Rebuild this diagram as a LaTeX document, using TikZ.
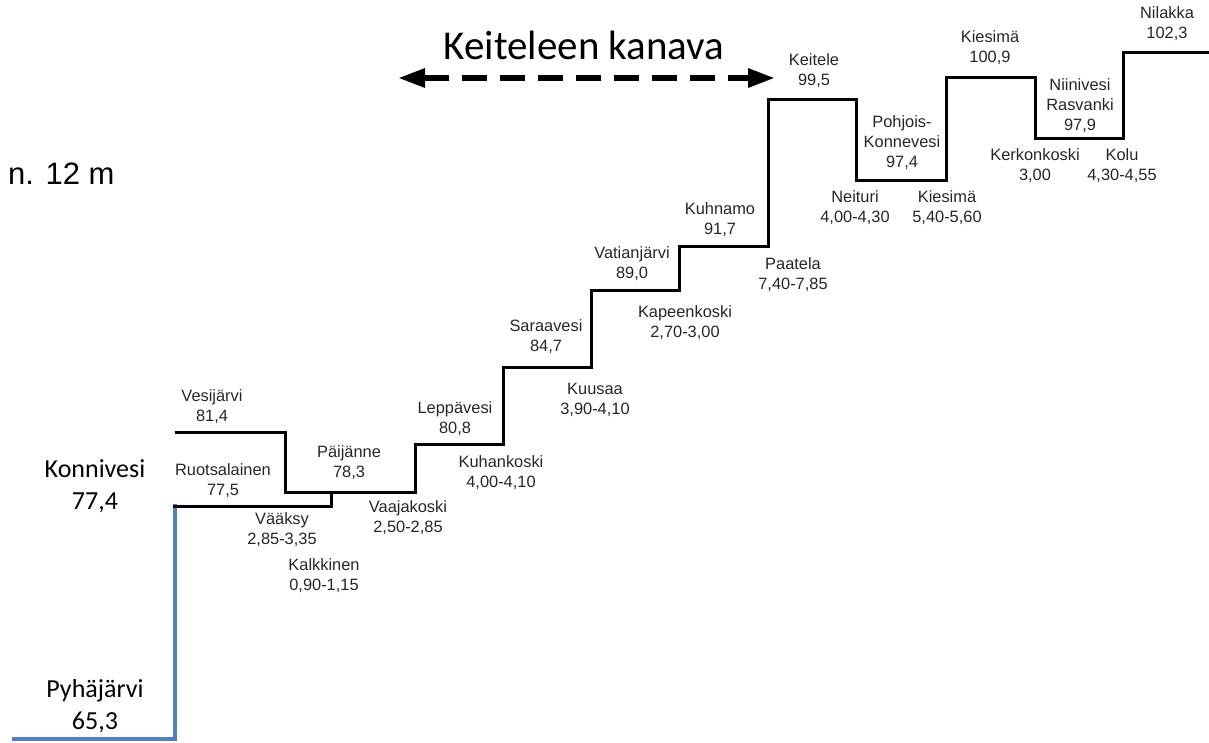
\documentclass[tikz,border=0pt]{standalone}
\usepackage{fontspec}
\setmainfont{Liberation Sans}
\newfontfamily\calfont{Carlito}
\usetikzlibrary{arrows.meta}
\definecolor{profblue}{RGB}{79,129,189}
\begin{document}
\begin{tikzpicture}[x=1pt,y=-1pt, line join=miter, line cap=butt,
		lbl/.style={align=center, font=\fontsize{16.4}{20}\selectfont, text=black!85, inner sep=0pt},
		big/.style={align=center, font=\calfont\fontsize{26}{32}\selectfont, inner sep=0pt}]
	\useasboundingbox (0,0) rectangle (1209,742);
	% lake profile
	\draw[profblue, line width=4.5pt] (12,739)--(175,739)--(175,504);
	\draw[line width=3pt] (173,506)--(331,506)--(331,492);
	\draw[line width=3pt] (175,432)--(285,432)--(285,492)--(415,492)--(415,444)--(503,444)--(503,367)
		--(591,367)--(591,290)--(679,290)--(679,246)--(768,246)--(768,99)--(856,99)--(856,180)
		--(946,180)--(946,77)--(1035,77)--(1035,138)--(1123,138)--(1123,52)--(1209,52);
	% lakes and locks
	\foreach \x/\y/\nm/\t in {212/407/vesij/{Vesijärvi\\81,4}, 223/481/ruots/{Ruotsalainen\\77,5},
		349/463/paij/{Päijänne\\78,3}, 282/530/vaak/{Vääksy\\2,85-3,35}, 324/576/kalk/{Kalkkinen\\0,90-1,15},
		408/518/vaaj/{Vaajakoski\\2,50-2,85}, 455/419/lepp/{Leppävesi\\80,8}, 501/473/kuhk/{Kuhankoski\\4,00-4,10},
		546/337/sara/{Saraavesi\\84,7}, 595/400/kuus/{Kuusaa\\3,90-4,10}, 632/264/vati/{Vatianjärvi\\89,0},
		685/323/kape/{Kapeenkoski\\2,70-3,00}, 720/220/kuhn/{Kuhnamo\\91,7}, 793/275/paat/{Paatela\\7,40-7,85},
		814/71/keit/{Keitele\\99,5}, 902/143/pohj/{Pohjois-\\Konnevesi\\97,4}, 855/208/neit/{Neituri\\4,00-4,30},
		947/208/kiesk/{Kiesimä\\5,40-5,60}, 990/48/kies/{Kiesimä\\100,9}, 1080/106/niin/{Niinivesi\\Rasvanki\\97,9},
		1035/166/kerk/{Kerkonkoski\\3,00}, 1122/166/kolu/{Kolu\\4,30-4,55}, 1167/24/nila/{Nilakka\\102,3}}{
		\node[lbl] (\nm) at (\x,\y) {\t};}
	\node[big] (konn) at (95,486) {Konnivesi\\77,4};
	\node[big] (pyha) at (95,706) {Pyhäjärvi\\65,3};
	\node[anchor=west, inner sep=0pt, font=\fontsize{31}{37}\selectfont] (korkeus) at (8,174) {n. 12 m};
	% canal
	\node[inner sep=0pt, font=\calfont\fontsize{41}{49}\selectfont] (kanava) at (584,45) {Keiteleen kanava};
	\coordinate (kv) at (398,78);
	\coordinate (ko) at (775,78);
	\draw[line width=6pt, dash pattern=on 25pt off 13pt, {Triangle[length=27pt,width=18pt]}-{Triangle[length=27pt,width=18pt]}] (kv)--(ko);
\end{tikzpicture}
\end{document}
